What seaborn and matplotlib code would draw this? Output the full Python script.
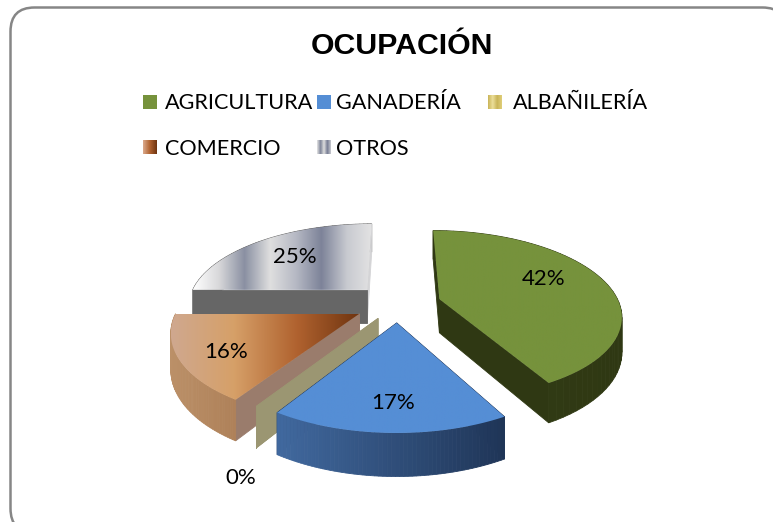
import numpy as np
import matplotlib
matplotlib.use('Agg')
import matplotlib.pyplot as plt
import seaborn as sns
from matplotlib.patches import FancyBboxPatch, Polygon

# Datos
categorias = ['AGRICULTURA', 'GANADERÍA', 'ALBAÑILERÍA', 'COMERCIO', 'OTROS']
valores = [42, 17, 0, 16, 25]
explode = [0.24, 0.22, 0.2, 0.24, 0.25]

sns.set_theme(style='white')
plt.rcParams['font.family'] = ['Lato', 'DejaVu Sans']

# Camara: pie unitario -> pixeles
CX, CY, ESC_X, ESC_Y, PERSP, ALTO = 398, 304, 180, 82.5, 0.18, 34


def proyecta(x, y, z=0.0):
    x, y = np.asarray(x, float), np.asarray(y, float)
    w = 1 / (1 + PERSP * y)
    return CX + ESC_X * x * w, CY - ESC_Y * y * w + z * ALTO * w


# Colores
tops = [
    ['#76923c', '#76923c'],
    ['#558ed5', '#558ed5'],
    ['#9b9672', '#9b9672'],
    ['#cfa88f', '#d6a068', '#b0622f', '#6f3410'],
    ['#ffffff', '#d8d8da', '#8a90a2', '#dfdfdf', '#b6b9c4', '#7d8399', '#c8cad0', '#e4e4e4'],
]
borde = [
    ['#333d15', '#2f3813'],
    ['#41699f', '#1f3557'],
    ['#9b9672', '#9b9672'],
    ['#bb9068', '#97643c'],
    ['#666666', '#666666'],
]
# pared radial inicial y final de cada sector
lado_ini = ['#2f3813', '#1f3557', '#9b9672', '#9a7c6c', '#d4d4d6']
lado_fin = ['#2f3813', '#1f3557', '#9b9672', '#9a7c6c', '#666666']
swatches = [
    ['#76923c', '#76923c'],
    ['#558ed5', '#558ed5'],
    ['#c9b458', '#ecdf9a', '#c9b458', '#e0cf7a'],
    ['#dbaa8c', '#b0622f', '#6f3410'],
    ['#e4e4e4', '#7e8498', '#dfdfdf', '#757b92', '#c8cad0'],
]
# desplazamiento de etiquetas en pixeles
label_dx = [4, 1, -69, -29, -6]
label_dy = [-8, 20, 111, 12, -2]
orden = [4, 0, 3, 2, 1]

# El pie de matplotlib da los angulos y centros de cada sector
fig_aux, ax_aux = plt.subplots()
wedges, _ = ax_aux.pie(valores, explode=explode, startangle=90, counterclock=False, normalize=True)
plt.close(fig_aux)

fig = plt.figure(figsize=(7.73, 5.22), dpi=100)
ax = fig.add_axes([0, 0, 1, 1])
ax.set_axis_off()
ax.set_xlim(0, 773)
ax.set_ylim(522, 0)

ax.add_patch(FancyBboxPatch((10.5, 7.5), 776, 525, boxstyle='round,pad=0,rounding_size=24',
                            fc='white', ec='#868686', lw=1.8, zorder=0))

z = 1
for i in orden:
    w = wedges[i]
    ang = np.radians(np.linspace(w.theta1, w.theta2, 60))
    cx, cy = w.center
    rx, ry = cx + w.r * np.cos(ang), cy + w.r * np.sin(ang)
    xs = np.r_[cx, rx]
    ys = np.r_[cy, ry]
    cm_borde = sns.blend_palette(borde[i], as_cmap=True)

    # paredes, de atras hacia adelante
    segs = []
    n = len(xs)
    for k in range(n):
        a, b = k, (k + 1) % n
        segs.append((ys[a] + ys[b], a, b))
    px_all, _ = proyecta(xs, ys)
    x0, x1 = px_all.min(), px_all.max()
    for _, a, b in sorted(segs, key=lambda s: -s[0]):
        xa, ya = proyecta(xs[a], ys[a])
        xb, yb = proyecta(xs[b], ys[b])
        xc, yc = proyecta(xs[b], ys[b], 1)
        xd, yd = proyecta(xs[a], ys[a], 1)
        if a == 0:
            col = lado_ini[i]
        elif b == 0:
            col = lado_fin[i]
        else:
            col = cm_borde((0.5 * (xa + xb) - x0) / max(x1 - x0, 1))
        ax.add_patch(Polygon([(xa, ya), (xb, yb), (xc, yc), (xd, yd)], closed=True,
                             fc=col, ec=col, lw=0.6, zorder=z))
        z += 1

    # cara superior con degradado
    if valores[i] > 0:
        px, py = proyecta(xs, ys)
        cara = Polygon(np.c_[px, py], closed=True, fc='none', ec='none',
                       transform=ax.transData, zorder=z)
        ax.add_patch(cara)
        grad = np.linspace(0, 1, 256).reshape(1, -1)
        im = ax.imshow(grad, cmap=sns.blend_palette(tops[i], as_cmap=True), aspect='auto',
                       extent=(px.min(), px.max(), py.max(), py.min()), zorder=z)
        im.set_clip_path(cara)
        z += 1

ax.set_xlim(0, 773)
ax.set_ylim(522, 0)

# Etiquetas de porcentaje
for i, w in enumerate(wedges):
    med = np.radians(0.5 * (w.theta1 + w.theta2))
    lx, ly = proyecta(w.center[0] + 0.6 * np.cos(med), w.center[1] + 0.6 * np.sin(med))
    ax.text(lx + label_dx[i], ly + label_dy[i], f'{valores[i]}%', fontsize=16, color='black',
            ha='center', va='center', zorder=z + 1)

# Titulo
ax.text(401.5, 46, 'OCUPACIÓN', fontsize=21.8, fontweight='bold', family='Liberation Sans',
        color='black', ha='center', va='center', zorder=z + 1)

# Leyenda
sw_x = [143, 317, 488, 143, 317]
sw_y = [95, 95, 95, 140, 140]
tx_x = [165, 336, 513, 165, 336]
tx_y = [109, 109, 109, 155, 155]
for i, cat in enumerate(categorias):
    g = np.linspace(0, 1, 64).reshape(1, -1)
    ax.imshow(g, cmap=sns.blend_palette(swatches[i], as_cmap=True), aspect='auto',
              extent=(sw_x[i], sw_x[i] + 14, sw_y[i] + 14, sw_y[i]), zorder=z + 1)
    ax.text(tx_x[i], tx_y[i], cat, fontsize=15.6, color='black', ha='left', va='baseline', zorder=z + 1)

ax.set_xlim(0, 773)
ax.set_ylim(522, 0)
fig.savefig('out.png', dpi=100)
plt.close(fig)
